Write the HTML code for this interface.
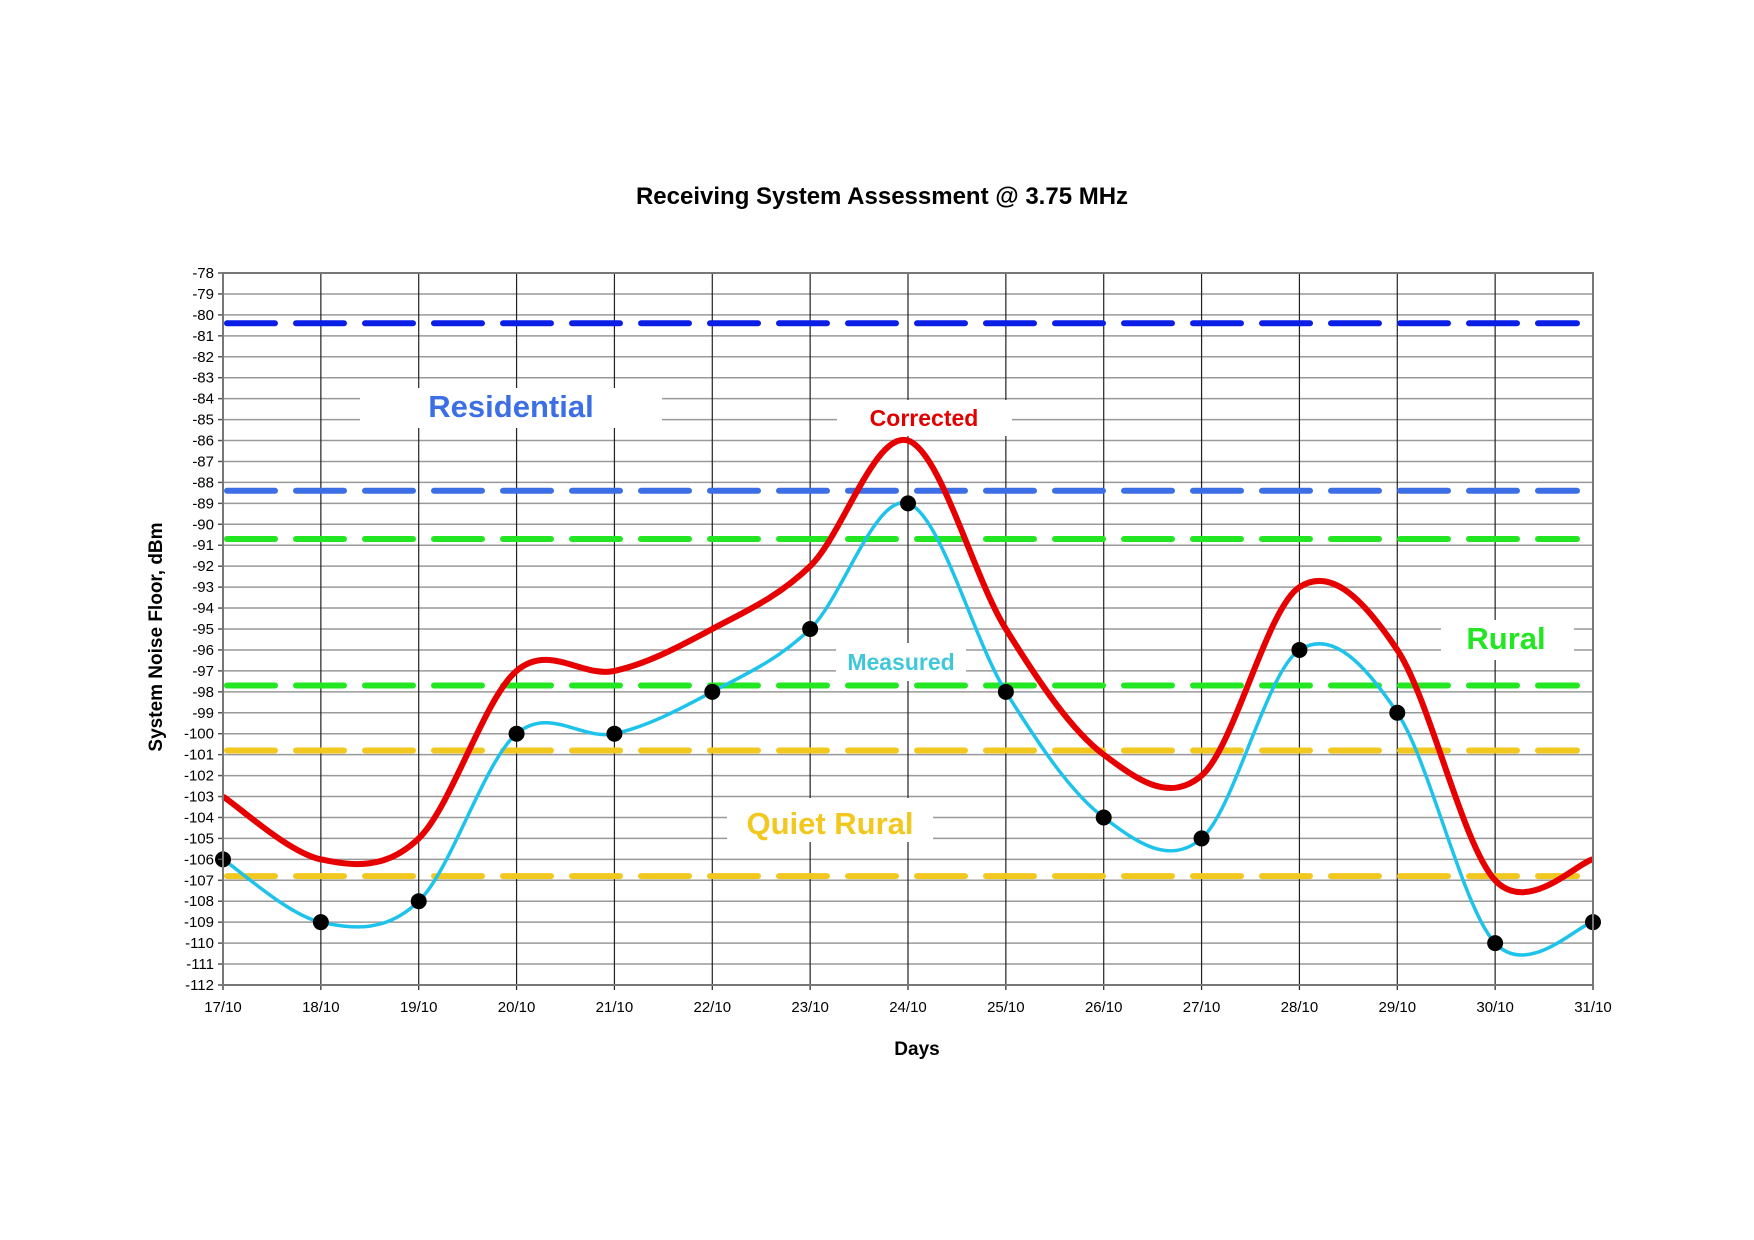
<!DOCTYPE html>
<html><head><meta charset="utf-8"><style>
html,body{margin:0;padding:0;background:#fff;}
svg{display:block;font-family:"Liberation Sans",Arial,sans-serif;}
</style></head><body>
<svg id="chart" width="1754" height="1240" viewBox="0 0 1754 1240" xmlns="http://www.w3.org/2000/svg">
<rect width="1754" height="1240" fill="#fff"/>
<text x="882" y="204" text-anchor="middle" font-size="24" font-weight="bold">Receiving System Assessment @ 3.75  MHz</text>
<g id="grid"></g>
<g id="bands"></g>
<g id="labels"></g>
<g id="series"></g>
<g id="axes"></g>
<text transform="translate(162,637) rotate(-90)" text-anchor="middle" font-size="19" font-weight="bold">System Noise Floor, dBm</text>
<text x="917" y="1055" text-anchor="middle" font-size="19" font-weight="bold">Days</text>
</svg>
<script>
const categories = ["17/10","18/10","19/10","20/10","21/10","22/10","23/10","24/10","25/10","26/10","27/10","28/10","29/10","30/10","31/10"];
const measured = [-106,-109,-108,-100,-100,-98,-95,-89,-98,-104,-105,-96,-99,-110,-109];
const corrected = [-103,-106,-105,-97,-97,-95,-92,-86,-95,-101,-102,-93,-96,-107,-106];
const yTicks = [];
for (let v = -78; v >= -112; v--) yTicks.push(v);
const bandValues = [-80.4,-88.4,-90.7,-97.7,-100.8,-106.8];
const bandColors = ["#0A1EE6","#3C6EE6","#22E622","#22E622","#F2C81E","#F2C81E"];
const bandNames = ["residential-upper","residential-lower","rural-upper","rural-lower","quiet-rural-upper","quiet-rural-lower"];

const L=223,R=1593,T=273,B=985,yMax=-78,yMin=-112;
const NS="http://www.w3.org/2000/svg";
function x(i){return L+(R-L)*i/(categories.length-1);}
function y(v){return T+(B-T)*(yMax-v)/(yMax-yMin);}
function mk(tag,attrs,parent){const e=document.createElementNS(NS,tag);for(const k in attrs)e.setAttribute(k,attrs[k]);parent.appendChild(e);return e;}
const grid=document.getElementById('grid'),bands=document.getElementById('bands'),labels=document.getElementById('labels'),series=document.getElementById('series'),axes=document.getElementById('axes');

yTicks.forEach(v=>{
  const l=mk('line',{x1:L,x2:R,y1:y(v),y2:y(v),stroke:'#999','stroke-width':1.5},grid);
  
  
  const t=mk('text',{x:L-9,y:y(v)+5,'text-anchor':'end','font-size':15},axes);
  t.textContent=v;
  
  
  mk('line',{x1:L-5,x2:L,y1:y(v),y2:y(v),stroke:'#555','stroke-width':1.5},axes);
});
categories.forEach((c,i)=>{
  const l=mk('line',{x1:x(i),x2:x(i),y1:T,y2:B+5,stroke:'#222','stroke-width':1.2},grid);
  
  
  const t=mk('text',{x:x(i),y:1012,'text-anchor':'middle','font-size':15},axes);
  t.textContent=c;
  
  
});
mk('rect',{x:L,y:T,width:R-L,height:B-T,fill:'none',stroke:'#777','stroke-width':2},axes);

bandValues.forEach((v,i)=>{
  const l=mk('line',{x1:L+4,x2:R-16,y1:y(v),y2:y(v),stroke:bandColors[i],'stroke-width':6,'stroke-dasharray':'48 21','stroke-linecap':'round'},bands);
  
  
});

function label(txt,cx,base,size,color,bx,by,bw,bh,name){
  const r=mk('rect',{x:bx,y:by,width:bw,height:bh,fill:'#fff'},labels);
  
  
  const t=mk('text',{x:cx,y:base,'text-anchor':'middle','font-size':size,'font-weight':'bold',fill:color},labels);
  t.textContent=txt;
  
  
}
label('Residential',511,417,31,'#3C6EE6',360,388,302,40,'residential-label');
label('Corrected',924,426,23,'#E00000',837,400,175,36,'corrected-label');
label('Measured',901,670,23,'#40C8D8',836,643,130,38,'measured-label');
label('Rural',1506,649,31,'#22E622',1441,620,133,40,'rural-label');
label('Quiet Rural',830,834,31,'#F2C81E',727,798,206,44,'quiet-rural-label');

function smooth(vals){
  const p=vals.map((v,i)=>[x(i),y(v)]);
  let d='M'+p[0][0]+','+p[0][1];
  for(let i=0;i<p.length-1;i++){
    const p0=p[Math.max(0,i-1)],p1=p[i],p2=p[i+1],p3=p[Math.min(p.length-1,i+2)];
    const c1=[p1[0]+(p2[0]-p0[0])/6,p1[1]+(p2[1]-p0[1])/6];
    const c2=[p2[0]-(p3[0]-p1[0])/6,p2[1]-(p3[1]-p1[1])/6];
    d+=' C'+c1[0]+','+c1[1]+' '+c2[0]+','+c2[1]+' '+p2[0]+','+p2[1];
  }
  return d;
}
const cl=mk('path',{d:smooth(corrected),fill:'none',stroke:'#E60000','stroke-width':6},series);


const ml=mk('path',{d:smooth(measured),fill:'none',stroke:'#1EC3EB','stroke-width':3.5},series);


measured.forEach((v,i)=>{
  const c=mk('circle',{cx:x(i),cy:y(v),r:8,fill:'#000'},series);
  
  
});
</script>
</body></html>
